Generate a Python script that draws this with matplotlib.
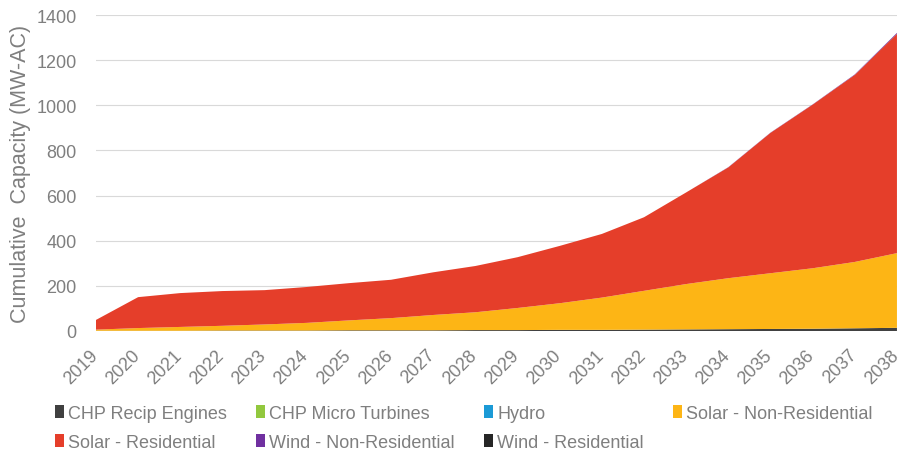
import matplotlib.pyplot as plt
import matplotlib.transforms as mtransforms
from matplotlib.patches import Patch

plt.rcParams['font.family'] = ['Liberation Sans', 'DejaVu Sans']

years = list(range(2019, 2039))
series_names = ['CHP Recip Engines', 'CHP Micro Turbines', 'Hydro', 'Solar - Non-Residential',
                'Solar - Residential', 'Wind - Non-Residential', 'Wind - Residential']
colors = ['#404040', '#92C83E', '#1B9AD6', '#FDB515', '#E53E2A', '#7030A0', '#262626']

chp_recip = [1, 1, 1, 2, 2, 2, 3, 3, 3, 4, 4, 5, 5, 6, 7, 8, 9, 10, 12, 14]
chp_micro = [0] * 20
hydro = [0] * 20
solar_nonres = [5, 12, 17, 21, 27, 34, 44, 54, 68, 79, 98, 118, 143, 172, 201, 226, 247, 268, 294, 331]
solar_res = [43, 137, 150, 154, 152, 159, 165, 170, 189, 205, 225, 254, 282, 326, 406, 491, 622, 725, 829, 972]
wind_nonres = [0, 0, 0, 0, 0, 0, 0, 0, 0, 0, 0, 0, 0, 0, 0, 1, 1, 1, 2, 4]
wind_res = [0] * 20

data = [chp_recip, chp_micro, hydro, solar_nonres, solar_res, wind_nonres, wind_res]

txt = '#7F7F7F'
fig = plt.figure(figsize=(9.02, 4.52), dpi=100)
ax = fig.add_axes([0.1064, 0.2655, 0.888, 0.699])

ax.stackplot(years, *data, colors=colors, linewidth=0)

ax.set_xlim(2019, 2038)
ax.set_ylim(0, 1400)
ax.set_yticks(range(0, 1401, 200))
ax.set_xticks(years)
ax.set_xticklabels([])
# rotated year labels, drawn as texts so the last one stays inside the figure
shift = mtransforms.ScaledTranslation(-7 / 100, -15 / 100, fig.dpi_scale_trans)
for y in years:
    ax.text(y, 0, str(y), transform=ax.get_xaxis_transform() + shift,
            rotation=45, ha='right', va='top', rotation_mode='anchor',
            fontsize=13, color=txt)
ax.grid(axis='y', color='#D9D9D9', linewidth=0.8)
ax.set_axisbelow(True)
for s in ax.spines.values():
    s.set_visible(False)
ax.tick_params(axis='both', length=0, labelsize=13, colors=txt)
ax.tick_params(axis='y', pad=14)
ax.set_ylabel('Cumulative  Capacity (MW-AC)', fontsize=15.5, color=txt, labelpad=4)

handles = [Patch(facecolor=c, edgecolor='none') for c in colors]
order = [0, 4, 1, 5, 2, 6, 3]
leg = fig.legend([handles[i] for i in order], [series_names[i] for i in order],
                 ncol=4, loc='upper left', bbox_to_anchor=(0.053, 0.118),
                 frameon=False, labelcolor=txt, fontsize=13,
                 handlelength=0.5, handleheight=0.7, handletextpad=0.2,
                 columnspacing=1.65, labelspacing=0.65, borderaxespad=0)

fig.savefig('out.png', dpi=100)
